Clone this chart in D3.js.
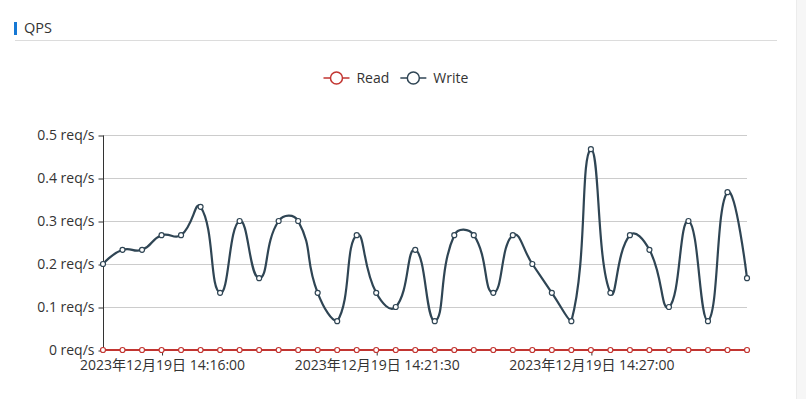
<!DOCTYPE html>
<html>
<head>
<meta charset="utf-8">
<script src="https://cdn.jsdelivr.net/npm/d3@7"></script>
<style>
  body { margin: 0; background: #fff; }
  svg text { font-family: "Microsoft YaHei", "Open Sans", "Noto Sans CJK SC", sans-serif; }
</style>
</head>
<body>
<div id="chart"></div>
<script>
// sample times (30 s apart)
var times = [
  "2023-12-19 14:14:30", "2023-12-19 14:15:00", "2023-12-19 14:15:30", "2023-12-19 14:16:00",
  "2023-12-19 14:16:30", "2023-12-19 14:17:00", "2023-12-19 14:17:30", "2023-12-19 14:18:00",
  "2023-12-19 14:18:30", "2023-12-19 14:19:00", "2023-12-19 14:19:30", "2023-12-19 14:20:00",
  "2023-12-19 14:20:30", "2023-12-19 14:21:00", "2023-12-19 14:21:30", "2023-12-19 14:22:00",
  "2023-12-19 14:22:30", "2023-12-19 14:23:00", "2023-12-19 14:23:30", "2023-12-19 14:24:00",
  "2023-12-19 14:24:30", "2023-12-19 14:25:00", "2023-12-19 14:25:30", "2023-12-19 14:26:00",
  "2023-12-19 14:26:30", "2023-12-19 14:27:00", "2023-12-19 14:27:30", "2023-12-19 14:28:00",
  "2023-12-19 14:28:30", "2023-12-19 14:29:00", "2023-12-19 14:29:30", "2023-12-19 14:30:00",
  "2023-12-19 14:30:30", "2023-12-19 14:31:00"
];
var readValues = [
  0, 0, 0, 0, 0, 0, 0, 0, 0, 0, 0, 0, 0, 0, 0, 0, 0,
  0, 0, 0, 0, 0, 0, 0, 0, 0, 0, 0, 0, 0, 0, 0, 0, 0
];
var writeValues = [
  0.2, 0.233, 0.233, 0.267, 0.267, 0.333, 0.133, 0.3, 0.167, 0.3, 0.3, 0.133,
  0.067, 0.267, 0.133, 0.1, 0.233, 0.067, 0.267, 0.267, 0.133, 0.267, 0.2,
  0.133, 0.067, 0.467, 0.133, 0.267, 0.233, 0.1, 0.3, 0.067, 0.367, 0.167
];
var xTickTimes = ["2023-12-19 14:16:00", "2023-12-19 14:21:30", "2023-12-19 14:27:00"];
var yTicks = [0, 0.1, 0.2, 0.3, 0.4, 0.5];
var seriesNames = ["Read", "Write"];
var seriesColors = ["#c23531", "#2f4554"];

let width = 806;
let height = 399;
let fontSize = 14;

let parseTime = d3.timeParse("%Y-%m-%d %H:%M:%S");
let fmtTime = d3.timeFormat("%Y年%m月%d日 %H:%M:%S");

let svg = d3.select("#chart")
  .append("svg")
  .attr("width", width)
  .attr("height", height);

// scrollbar strip on the right
svg.append("rect")
  .attr("x", 796).attr("y", 0)
  .attr("width", 10).attr("height", height)
  .attr("fill", "#f6f6f6");
svg.append("line")
  .attr("x1", 796.5).attr("x2", 796.5)
  .attr("y1", 0).attr("y2", height)
  .attr("stroke", "#ececec");

// panel title
svg.append("rect")
  .attr("x", 14).attr("y", 22)
  .attr("width", 3).attr("height", 13)
  .attr("fill", "#1678d4");
svg.append("text")
  .attr("x", 24).attr("y", 33)
  .attr("fill", "#333")
  .style("font-size", "14.5px")
  .text("QPS");
svg.append("line")
  .attr("x1", 15).attr("x2", 777)
  .attr("y1", 40.5).attr("y2", 40.5)
  .attr("stroke", "#dcdcdc");

let x = d3.scaleTime()
  .domain(d3.extent(times, parseTime))
  .range([103, 747]);

let y = d3.scaleLinear()
  .domain([0, 0.5])
  .range([350, 135]);

// grid lines
svg.append("g")
  .selectAll("line")
  .data(yTicks.slice(1))
  .enter()
  .append("line")
  .attr("x1", x.range()[0]).attr("x2", x.range()[1])
  .attr("y1", d => Math.round(y(d)) + 0.5)
  .attr("y2", d => Math.round(y(d)) + 0.5)
  .attr("stroke", "#ccc");

// y axis
let yAxis = svg.append("g")
  .attr("transform", "translate(" + (x.range()[0] + 0.5) + ",0.5)")
  .call(d3.axisLeft(y)
    .tickValues(yTicks)
    .tickSize(5)
    .tickPadding(4)
    .tickFormat(d => d3.format("~g")(d) + " req/s"));
yAxis.select(".domain").attr("stroke", "#333").attr("d", "M-0," + y(0.5) + "V" + y(0));
yAxis.selectAll(".tick line").attr("stroke", "#333");
yAxis.selectAll(".tick text")
  .attr("fill", "#333")
  .style("font-size", fontSize + "px");

// x axis
let xAxis = svg.append("g")
  .attr("transform", "translate(0.5," + (y(0) + 0.5) + ")")
  .call(d3.axisBottom(x)
    .tickValues(xTickTimes.map(parseTime))
    .tickSize(5)
    .tickPadding(5)
    .tickFormat(fmtTime));
xAxis.select(".domain").attr("stroke", "#333").attr("d", "M" + x.range()[0] + ",0H" + x.range()[1]);
xAxis.selectAll(".tick line").attr("stroke", "#333");
xAxis.selectAll(".tick text")
  .attr("fill", "#333")
  .style("font-size", fontSize + "px");

// echarts-like smooth curve (smooth = 0.5)
function smoothPath(pts, smooth) {
  let p = d3.path();
  let minY = d3.min(pts, d => d[1]), maxY = d3.max(pts, d => d[1]);
  p.moveTo(pts[0][0], pts[0][1]);
  let cp0 = pts[0];
  for (let i = 1; i < pts.length; i++) {
    let cur = pts[i], prev = pts[i - 1], next = pts[i + 1];
    let cp1, nextCp0;
    if (!next) {
      cp1 = cur; nextCp0 = cur;
    } else {
      let vx = next[0] - prev[0], vy = next[1] - prev[1];
      let d0 = Math.hypot(cur[0] - prev[0], cur[1] - prev[1]);
      let d1 = Math.hypot(next[0] - cur[0], next[1] - cur[1]);
      let r = (d0 + d1) ? d1 / (d0 + d1) : 0.5;
      cp1 = [cur[0] - vx * smooth * (1 - r), cur[1] - vy * smooth * (1 - r)];
      nextCp0 = [cur[0] + vx * smooth * r, cur[1] + vy * smooth * r];
      cp1[1] = Math.max(minY, Math.min(maxY, cp1[1]));
      nextCp0[1] = Math.max(minY, Math.min(maxY, nextCp0[1]));
    }
    p.bezierCurveTo(cp0[0], cp0[1], cp1[0], cp1[1], cur[0], cur[1]);
    cp0 = nextCp0;
  }
  return p.toString();
}

let seriesData = [readValues, writeValues];

seriesData.forEach(function(vals, si) {
  let pts = vals.map((v, i) => [x(parseTime(times[i])), y(v)]);
  let g = svg.append("g").attr("class", "series-" + seriesNames[si]);
  g.append("path")
    .attr("d", smoothPath(pts, 0.5))
    .attr("fill", "none")
    .attr("stroke", seriesColors[si])
    .attr("stroke-width", 2.2)
    .attr("stroke-linejoin", "bevel");
  g.selectAll("circle")
    .data(pts)
    .enter()
    .append("circle")
    .attr("cx", d => d[0])
    .attr("cy", d => d[1])
    .attr("r", 2.5)
    .attr("fill", "#fff")
    .attr("stroke", seriesColors[si])
    .attr("stroke-width", 1.2);
});

// legend
let legend = svg.append("g");
let items = legend.selectAll("g")
  .data(seriesNames)
  .enter()
  .append("g");
items.append("line")
  .attr("x1", 0).attr("x2", 26)
  .attr("y1", 0).attr("y2", 0)
  .attr("stroke", (d, i) => seriesColors[i])
  .attr("stroke-width", 1.5);
items.append("circle")
  .attr("cx", 13).attr("cy", 0).attr("r", 6)
  .attr("fill", "#fff")
  .attr("stroke", (d, i) => seriesColors[i])
  .attr("stroke-width", 1.5);
items.append("text")
  .attr("x", 33).attr("y", 0)
  .attr("dy", "0.35em")
  .attr("fill", "#333")
  .style("font-size", fontSize + "px")
  .text(d => d);

let offset = 0;
items.each(function() {
  let w = this.getBBox().width;
  d3.select(this).attr("transform", "translate(" + offset + ",0)");
  offset += w + 11;
});
let legendW = offset - 11;
legend.attr("transform", "translate(" + (396 - legendW / 2) + ",78)");
</script>
</body>
</html>
